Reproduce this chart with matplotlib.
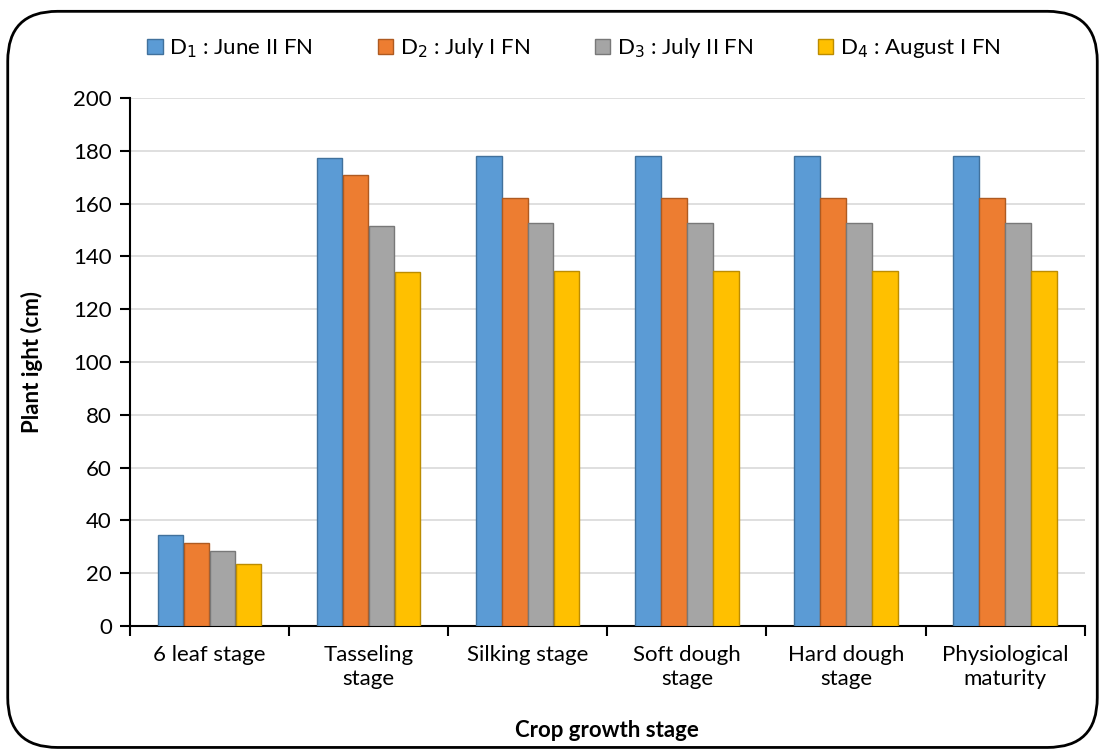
import matplotlib
matplotlib.use("Agg")
import matplotlib.pyplot as plt
import numpy as np
from matplotlib.patches import FancyBboxPatch

plt.rcParams["font.family"] = ["Lato", "DejaVu Sans"]

stages = ["6 leaf stage", "Tasseling\nstage", "Silking stage", "Soft dough\nstage",
          "Hard dough\nstage", "Physiological\nmaturity"]
series_names = ["D$_1$ : June II FN", "D$_2$ : July I FN", "D$_3$ : July II FN", "D$_4$ : August I FN"]
d1 = [34.5, 177.5, 178.0, 178.0, 178.0, 178.0]
d2 = [31.5, 171.0, 162.0, 162.0, 162.0, 162.0]
d3 = [28.5, 151.5, 152.5, 152.5, 152.5, 152.5]
d4 = [23.5, 134.0, 134.5, 134.5, 134.5, 134.5]
yticks = list(range(0, 201, 20))

colors = ["#5B9BD5", "#ED7D31", "#A5A5A5", "#FFC000"]
edges = ["#41719C", "#AE5A21", "#787878", "#BC8C00"]

fig = plt.figure(figsize=(11.05, 7.55), dpi=100)
ax = fig.add_axes([0.1176, 0.171, 0.864, 0.699])

# rounded frame around the whole chart
frame = FancyBboxPatch((0.007, 0.01), 0.986, 0.975, boxstyle="round,pad=0,rounding_size=0.045",
                       transform=fig.transFigure, fill=False, edgecolor="black", linewidth=2,
                       mutation_aspect=1105 / 755)
fig.patches.append(frame)

x = np.arange(len(stages))
width = 0.16
step = 0.163
for i, vals in enumerate([d1, d2, d3, d4]):
    ax.bar(x + (i - 1.5) * step, vals, width=width, color=colors[i], edgecolor=edges[i],
           linewidth=1.0, label=series_names[i], zorder=3)

ax.set_xlim(-0.5, len(stages) - 0.5)
ax.set_ylim(0, 200)
ax.set_yticks(yticks)
ax.yaxis.grid(True, color="#D9D9D9", linewidth=1.2, zorder=0)
ax.set_axisbelow(True)

ax.set_xticks(x)
ax.set_xticklabels(stages, fontsize=16, linespacing=1.25)
ax.set_xticks(np.arange(-0.5, len(stages), 1), minor=True)
ax.tick_params(axis="x", which="major", length=0, pad=14)
ax.tick_params(axis="x", which="minor", length=7, width=1.5, direction="out")
ax.tick_params(axis="y", labelsize=16, length=7, width=1.5, direction="out", pad=6)

for s in ["top", "right"]:
    ax.spines[s].set_visible(False)
for s in ["left", "bottom"]:
    ax.spines[s].set_linewidth(1.5)

ax.set_ylabel("Plant ight (cm)", fontsize=16, fontweight="bold", labelpad=22)
ax.set_xlabel("Crop growth stage", fontsize=16, fontweight="bold", labelpad=22)

ax.legend(loc="upper center", bbox_to_anchor=(0.465, 1.155), ncol=4, frameon=False,
          fontsize=16, handlelength=0.7, handleheight=0.7, handletextpad=0.3,
          columnspacing=2.9)

fig.savefig("out.png", dpi=100)
